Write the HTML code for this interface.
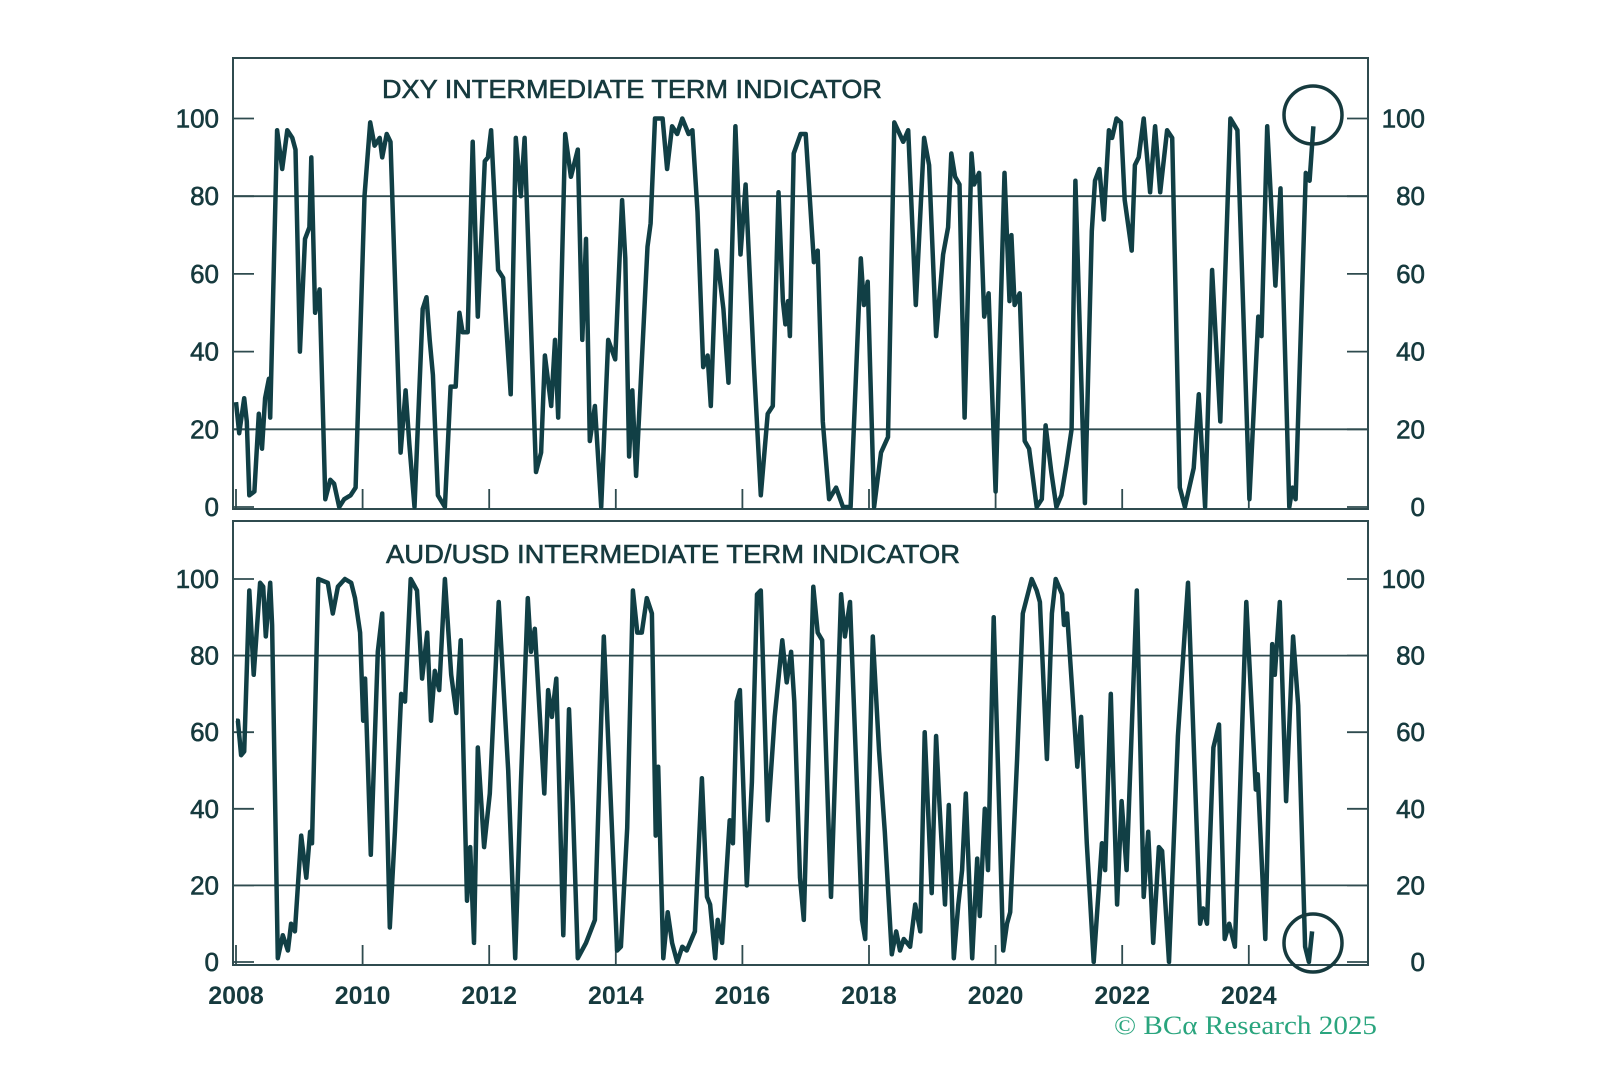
<!DOCTYPE html>
<html>
<head>
<meta charset="utf-8">
<style>
html,body{margin:0;padding:0;background:#fff;}
svg{display:block;}
text{font-family:"Liberation Sans",sans-serif;fill:#163a3e;}
.hv{stroke:#163a3e;stroke-width:0.6;}
</style>
</head>
<body>
<svg id="chart" width="1600" height="1092" viewBox="0 0 1600 1092" xmlns="http://www.w3.org/2000/svg">
  <rect x="233" y="58" width="1135" height="451" fill="none" stroke="#2f4b4f" stroke-width="2"/>
  <rect x="233" y="521" width="1135" height="444" fill="none" stroke="#2f4b4f" stroke-width="2"/>
  <text class="hv" x="382" y="98" font-size="26" stroke-width="0.5" textLength="500" lengthAdjust="spacingAndGlyphs">DXY INTERMEDIATE TERM INDICATOR</text>
  <text class="hv" x="386" y="563" font-size="26" stroke-width="0.5" textLength="574" lengthAdjust="spacingAndGlyphs">AUD/USD INTERMEDIATE TERM INDICATOR</text>
  <text x="1114" y="1034" font-size="26" style="font-family:'Liberation Serif',serif;fill:#2aa57e" textLength="263" lengthAdjust="spacingAndGlyphs">© BCα Research 2025</text>
  <g id="layer"></g>
</svg>
<script>
const yTicks = [0, 20, 40, 60, 80, 100];
const gridValues = [20, 80];
const xTickYears = [2008, 2010, 2012, 2014, 2016, 2018, 2020, 2022, 2024];

const dxyDates = [2008.00,2008.05,2008.13,2008.17,2008.21,2008.29,2008.36,2008.41,2008.46,2008.52,2008.54,2008.65,2008.73,2008.81,2008.89,2008.94,2009.01,2009.09,2009.16,2009.19,2009.25,2009.32,2009.33,2009.41,2009.49,2009.55,2009.63,2009.71,2009.81,2009.89,2010.03,2010.12,2010.19,2010.27,2010.31,2010.38,2010.44,2010.60,2010.68,2010.74,2010.82,2010.95,2011.01,2011.06,2011.11,2011.19,2011.30,2011.39,2011.47,2011.53,2011.58,2011.66,2011.74,2011.82,2011.93,2011.98,2012.03,2012.14,2012.22,2012.34,2012.42,2012.50,2012.56,2012.74,2012.82,2012.88,2012.98,2013.04,2013.09,2013.20,2013.29,2013.40,2013.47,2013.53,2013.59,2013.67,2013.77,2013.88,2013.99,2014.10,2014.15,2014.21,2014.26,2014.32,2014.50,2014.55,2014.62,2014.74,2014.81,2014.89,2014.97,2015.05,2015.15,2015.21,2015.29,2015.38,2015.45,2015.50,2015.59,2015.70,2015.78,2015.89,2015.97,2016.05,2016.18,2016.29,2016.40,2016.48,2016.57,2016.64,2016.68,2016.72,2016.75,2016.81,2016.92,2017.00,2017.13,2017.19,2017.27,2017.37,2017.48,2017.59,2017.71,2017.87,2017.92,2017.98,2018.08,2018.19,2018.30,2018.40,2018.54,2018.62,2018.74,2018.87,2018.95,2019.06,2019.17,2019.25,2019.30,2019.36,2019.43,2019.51,2019.62,2019.66,2019.74,2019.82,2019.89,2020.00,2020.14,2020.22,2020.25,2020.30,2020.38,2020.46,2020.53,2020.65,2020.73,2020.79,2020.88,2020.96,2021.04,2021.12,2021.20,2021.26,2021.41,2021.52,2021.57,2021.64,2021.71,2021.79,2021.84,2021.91,2021.98,2022.04,2022.10,2022.15,2022.20,2022.26,2022.34,2022.44,2022.52,2022.60,2022.71,2022.79,2022.91,2022.99,2023.13,2023.21,2023.31,2023.42,2023.55,2023.71,2023.82,2024.01,2024.15,2024.20,2024.29,2024.42,2024.50,2024.64,2024.69,2024.74,2024.90,2024.96,2025.02];
const dxyValues = [27,19,28,22,3,4,24,15,28,33,23,97,87,97,95,92,40,69,72,90,50,56,50,2,7,6,0,2,3,5,80,99,93,95,90,96,94,14,30,16,0,51,54,43,34,3,0,31,31,50,45,45,94,49,89,90,97,61,59,29,95,80,95,9,14,39,26,43,23,96,85,92,43,69,17,26,0,43,38,79,64,13,30,8,67,73,100,100,87,98,96,100,96,97,76,36,39,26,66,51,32,98,65,83,37,3,24,26,81,53,47,53,44,91,96,96,63,66,22,2,5,0,0,64,52,58,0,14,18,99,94,97,52,95,88,44,65,72,91,85,83,23,91,83,86,49,55,4,86,53,70,52,55,17,15,0,2,21,9,0,3,11,20,84,1,71,84,87,74,97,95,100,99,79,72,66,88,90,100,81,98,81,97,95,5,0,10,29,0,61,22,100,97,2,49,44,98,57,82,0,5,2,86,84,98];

const audDates = [2008.00,2008.03,2008.08,2008.13,2008.21,2008.28,2008.38,2008.43,2008.47,2008.54,2008.57,2008.66,2008.74,2008.82,2008.87,2008.93,2009.03,2009.11,2009.17,2009.20,2009.30,2009.45,2009.53,2009.61,2009.72,2009.82,2009.88,2009.96,2010.01,2010.04,2010.13,2010.24,2010.31,2010.43,2010.51,2010.61,2010.67,2010.76,2010.86,2010.94,2011.02,2011.08,2011.14,2011.21,2011.30,2011.40,2011.48,2011.55,2011.65,2011.70,2011.76,2011.82,2011.92,2012.01,2012.15,2012.30,2012.41,2012.50,2012.61,2012.66,2012.72,2012.87,2012.93,2012.99,2013.06,2013.17,2013.26,2013.32,2013.40,2013.53,2013.67,2013.81,2014.02,2014.08,2014.18,2014.27,2014.34,2014.41,2014.49,2014.57,2014.63,2014.67,2014.75,2014.82,2014.89,2014.97,2015.05,2015.12,2015.25,2015.36,2015.44,2015.49,2015.57,2015.61,2015.68,2015.80,2015.85,2015.91,2015.96,2016.07,2016.15,2016.23,2016.29,2016.40,2016.51,2016.63,2016.70,2016.77,2016.82,2016.91,2016.97,2017.12,2017.19,2017.26,2017.40,2017.56,2017.62,2017.70,2017.89,2017.94,2018.06,2018.16,2018.25,2018.36,2018.43,2018.49,2018.55,2018.65,2018.73,2018.81,2018.88,2018.99,2019.06,2019.11,2019.20,2019.26,2019.34,2019.41,2019.47,2019.53,2019.63,2019.71,2019.75,2019.83,2019.88,2019.97,2020.12,2020.18,2020.23,2020.34,2020.43,2020.57,2020.65,2020.70,2020.81,2020.89,2020.95,2021.05,2021.08,2021.13,2021.29,2021.35,2021.44,2021.55,2021.68,2021.73,2021.82,2021.92,2021.99,2022.07,2022.23,2022.34,2022.41,2022.49,2022.58,2022.63,2022.74,2022.88,2023.04,2023.23,2023.28,2023.34,2023.44,2023.53,2023.62,2023.69,2023.78,2023.96,2024.11,2024.14,2024.26,2024.37,2024.41,2024.49,2024.59,2024.70,2024.78,2024.89,2024.95,2025.00];
const audValues = [63,63,54,55,97,75,99,98,85,99,88,1,7,3,10,8,33,22,34,31,100,99,91,98,100,99,95,86,63,74,28,81,91,9,34,70,68,100,97,74,86,63,76,71,100,75,65,84,16,30,5,56,30,44,94,50,1,46,95,81,87,44,71,64,74,7,66,41,1,5,11,85,3,4,35,97,86,86,95,91,33,51,1,13,5,0,4,3,8,48,17,15,1,11,5,37,31,68,71,20,47,96,97,37,64,84,73,81,68,22,11,98,86,84,17,96,85,94,11,6,85,55,34,2,8,3,6,4,15,8,60,18,59,42,15,41,1,15,24,44,1,27,12,40,24,90,3,10,13,53,91,100,97,94,53,91,100,96,88,91,51,64,31,0,31,24,70,15,42,24,97,17,34,5,30,29,0,59,99,10,14,10,56,62,6,10,4,94,45,49,6,83,75,94,42,85,67,4,0,8];

const NS = "http://www.w3.org/2000/svg";
const layer = document.getElementById("layer");
const X0 = 236, PXY = 63.3, XL = 233, XR = 1368;
function xScale(yr){ return X0 + (yr - 2008) * PXY; }
const panels = [
  {key:"dxy", y0:507, y100:118.5, top:58, bottom:509, dates:dxyDates, values:dxyValues, circle:[1313,115]},
  {key:"audusd", y0:962, y100:579, top:521, bottom:965, dates:audDates, values:audValues, circle:[1313,943]}
];
function mk(tag, attrs){
  const el = document.createElementNS(NS, tag);
  for (const k in attrs) el.setAttribute(k, attrs[k]);
  layer.appendChild(el);
  return el;
}
panels.forEach(p => {
  const ys = v => p.y0 + (p.y100 - p.y0) * v / 100;
  gridValues.forEach(g => {
    const l = mk("line", {x1:XL, x2:XR, y1:ys(g), y2:ys(g), stroke:"#2f4b4f", "stroke-width":1.8});
    
    
  });
  yTicks.forEach(t => {
    const y = ys(t);
    const lt = mk("line", {x1:XL, x2:XL+21, y1:y, y2:y, stroke:"#2f4b4f", "stroke-width":1.8});
    
    
    const rt = mk("line", {x1:XR-21, x2:XR, y1:y, y2:y, stroke:"#2f4b4f", "stroke-width":1.8});
    
    
    const ll = mk("text", {x:219, y:y+9, "font-size":26, "text-anchor":"end", "class":"hv"});
    ll.textContent = t;
    
    
    const rl = mk("text", {x:1425, y:y+9, "font-size":26, "text-anchor":"end", "class":"hv"});
    rl.textContent = t;
    
    
  });
  xTickYears.forEach(yr => {
    const x = xScale(yr);
    const xt = mk("line", {x1:x, x2:x, y1:p.bottom, y2:p.bottom-20, stroke:"#2f4b4f", "stroke-width":1.8});
    
    
  });
  let d = "";
  p.dates.forEach((t, i) => { d += (i ? "L" : "M") + xScale(t).toFixed(1) + "," + ys(p.values[i]).toFixed(1); });
  const path = mk("path", {d:d, fill:"none", stroke:"#113f45", "stroke-width":4.5, "stroke-linejoin":"round"});
  
  
  const c = mk("circle", {cx:p.circle[0], cy:p.circle[1], r:29, fill:"none", stroke:"#163a3e", "stroke-width":3.5});
  
  
});
xTickYears.forEach(yr => {
  const t = mk("text", {x:xScale(yr), y:1004, "font-size":25, "text-anchor":"middle", "font-weight":"bold"});
  t.textContent = yr;
  
  
});
</script>
</body>
</html>
